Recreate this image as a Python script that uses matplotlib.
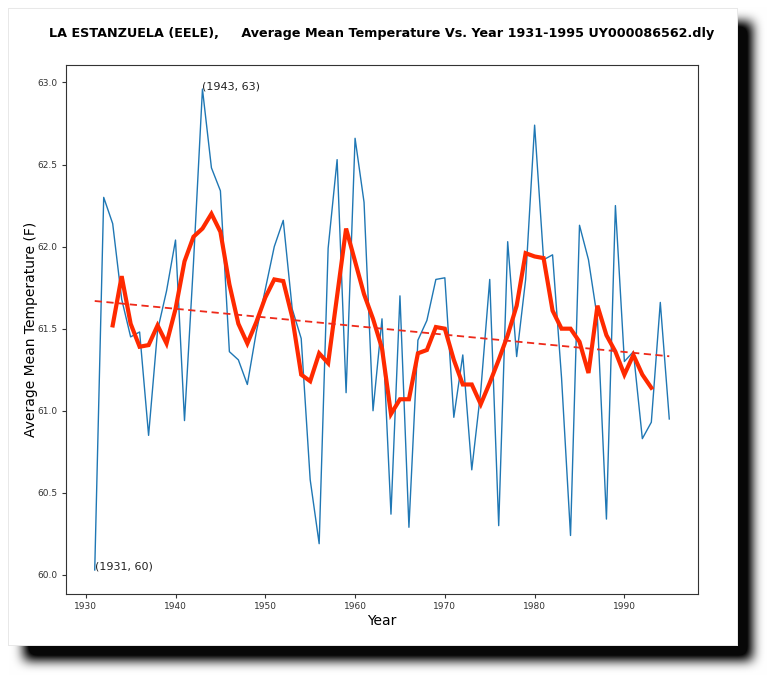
import numpy as np
import matplotlib
matplotlib.use("Agg")
import matplotlib.pyplot as plt

# ---- data ----
years = list(range(1931, 1996))
avg_temp = [
    60.03, 62.30, 62.14, 61.68, 61.45, 61.48, 60.85, 61.49, 61.73, 62.04,
    60.94, 61.90, 62.96, 62.48, 62.34, 61.36, 61.31, 61.16, 61.48, 61.74,
    62.00, 62.16, 61.62, 61.44, 60.58, 60.19, 61.99, 62.53, 61.11, 62.66,
    62.27, 61.00, 61.56, 60.37, 61.70, 60.29, 61.43, 61.55, 61.80, 61.81,
    60.96, 61.34, 60.64, 61.12, 61.80, 60.30, 62.03, 61.33, 61.80, 62.74,
    61.92, 61.95, 61.20, 60.24, 62.13, 61.92, 61.56, 60.34, 62.25, 61.30,
    61.36, 60.83, 60.93, 61.66, 60.95,
]
smooth_years = list(range(1933, 1994))
smooth_temp = [
    61.52, 61.82, 61.53, 61.39, 61.40, 61.52, 61.41, 61.62, 61.91, 62.06,
    62.11, 62.20, 62.09, 61.77, 61.53, 61.41, 61.54, 61.69, 61.80, 61.79,
    61.57, 61.22, 61.18, 61.35, 61.29, 61.70, 62.11, 61.91, 61.71, 61.56,
    61.38, 60.98, 61.07, 61.07, 61.35, 61.37, 61.51, 61.50, 61.31, 61.16,
    61.16, 61.04, 61.17, 61.31, 61.46, 61.64, 61.96, 61.94, 61.93, 61.61,
    61.50, 61.50, 61.42, 61.23, 61.64, 61.46, 61.36, 61.22, 61.34, 61.22,
    61.14,
]
annotations = [(1931, 60), (1943, 63)]
annot_y = [60.03, 62.96]

title = "LA ESTANZUELA (EELE),     Average Mean Temperature Vs. Year 1931-1995 UY000086562.dly"

W, H = 768, 677
fig = plt.figure(figsize=(W / 100, H / 100), dpi=100)
fig.patch.set_facecolor("white")

# ---- background card with drop shadow (decoration) ----
bg = np.ones((H, W, 3))
shadow = np.zeros((H, W))
shadow[22:660, 24:752] = 1.0
def box_blur(a, r, axis):
    k = np.ones(2 * r + 1) / (2 * r + 1)
    return np.apply_along_axis(lambda v: np.convolve(v, k, mode="same"), axis, a)
for _ in range(3):
    shadow = box_blur(shadow, 5, 0)
    shadow = box_blur(shadow, 5, 1)
shadow = np.clip(shadow * 1.25, 0, 1)
bg *= (1 - 0.97 * shadow)[..., None]
# card
bg[8:646, 8:738, :] = 1.0
edge = np.array([0.91, 0.91, 0.91])
bg[8, 8:738] = edge
bg[645, 8:738] = edge
bg[8:646, 8] = edge
bg[8:646, 737] = edge
fig.figimage(bg, xo=0, yo=0, origin="upper", zorder=-10)

ax = fig.add_axes([66 / W, 1 - 594 / H, (698 - 66) / W, (594 - 65) / H])
ax.set_facecolor("white")

ax.plot(years, avg_temp, color="#1f77b4", lw=1.0, zorder=2)
ax.plot(smooth_years, smooth_temp, color="#ff2a00", lw=3.0, zorder=3,
        solid_joinstyle="miter")
coef = np.polyfit(years, avg_temp, 1)
trend = np.polyval(coef, years)
ax.plot(years, trend, color="#ee2a1a", lw=1.3, ls=(0, (4, 2.5)), zorder=4)

for (lab_x, lab_y), yy in zip(annotations, annot_y):
    ax.annotate(f"({lab_x}, {lab_y})", xy=(lab_x, yy), fontsize=8, color="#222222",
                ha="left", va="baseline")

ax.set_yticks([60.0, 60.5, 61.0, 61.5, 62.0, 62.5, 63.0])
ax.set_yticklabels(["60.0", "60.5", "61.0", "61.5", "62.0", "62.5", "63.0"])
ax.set_xticks([1930, 1940, 1950, 1960, 1970, 1980, 1990])
ax.tick_params(labelsize=6.5, length=3, width=0.8, colors="#333333", pad=3)
for s in ax.spines.values():
    s.set_color("#333333")
    s.set_linewidth(0.8)

ax.set_xlabel("Year", fontsize=10, labelpad=2)
ax.set_ylabel("Average Mean Temperature (F)", fontsize=10, labelpad=0)

fig.text(382 / W, 1 - 34 / H, title, ha="center", va="center",
         fontsize=9.2, fontweight="bold")

fig.savefig("out.png", dpi=100)
